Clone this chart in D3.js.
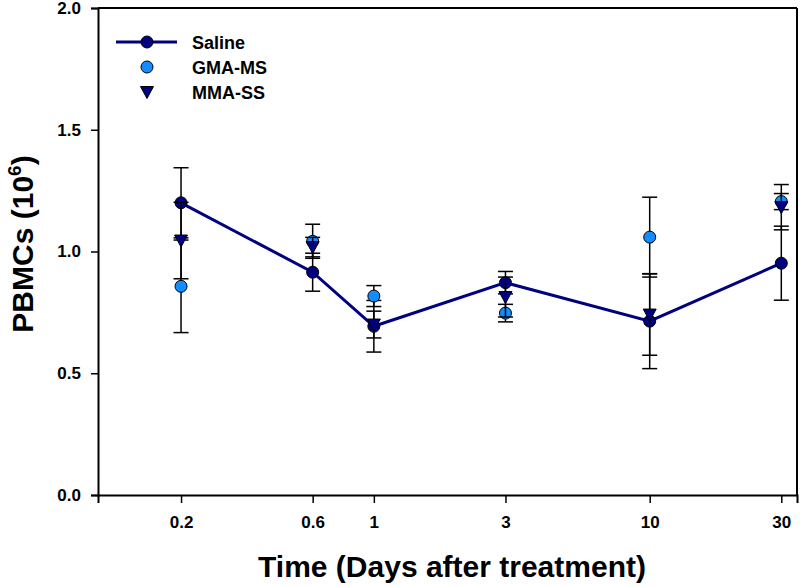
<!DOCTYPE html>
<html><head><meta charset="utf-8">
<script src="https://cdn.jsdelivr.net/npm/d3@7/dist/d3.min.js"></script>
<style>body{margin:0;background:#fff}svg{display:block;font-family:"Liberation Sans",Arial,sans-serif;font-weight:bold}</style>
</head><body><svg id="c" width="800" height="587"></svg>
<script>
const times = [0.2, 0.6, 1, 3, 10, 30];
const xTickLabels = ["0.2", "0.6", "1", "3", "10", "30"];
const yTicks = [0, 0.5, 1.0, 1.5, 2.0];
const salineMean = [1.20, 0.915, 0.693, 0.872, 0.714, 0.952];
const salineErr  = [0.144, 0.078, 0.106, 0.046, 0.195, 0.152];
const gmaMean    = [0.857, 1.042, 0.817, 0.747, 1.059, 1.205];
const gmaErr     = [0.19, 0.07, 0.043, 0.036, 0.164, 0.033];
const mmaMean    = [1.045, 1.018, 0.70, 0.813, 0.741, 1.182];
const mmaErr     = [0.157, 0.04, 0.055, 0.082, 0.167, 0.093];
const seriesNames = ["Saline", "GMA-MS", "MMA-SS"];

const NAVY = "#000080", BLUE = "#128CFF";
const svg = d3.select("#c");
const x = d3.scaleLog().domain([0.1, 34.2]).range([98, 797]);
const y = d3.scaleLinear().domain([0, 2]).range([495, 8]);

svg.append("line").attr("x1",98).attr("x2",797).attr("y1",8).attr("y2",8).attr("stroke","#000").attr("stroke-width",2);
svg.append("line").attr("x1",797).attr("x2",797).attr("y1",8).attr("y2",495).attr("stroke","#000").attr("stroke-width",2);

const xAxis = svg.append("g").attr("transform","translate(0,495)")
  .call(d3.axisBottom(x).tickValues(times).tickFormat((d,i)=>xTickLabels[i]).tickSize(8).tickPadding(13));
const yAxis = svg.append("g").attr("transform","translate(98,0)")
  .call(d3.axisLeft(y).tickValues(yTicks).tickFormat(d3.format(".1f")).tickSize(7).tickPadding(10));
[xAxis,yAxis].forEach(a=>{
  a.attr("font-size",17);
  a.select(".domain").attr("stroke","#000").attr("stroke-width",2);
  a.selectAll(".tick line").attr("stroke","#000").attr("stroke-width",1.5);
  a.selectAll("text").attr("font-weight","bold").attr("fill","#000").attr("font-family",'"Liberation Sans",Arial,sans-serif');
});

const tri = "M-6.5,-5.5L6.5,-5.5L0,6.5Z";
function errBars(mean, err){
  const g = svg.append("g").attr("stroke","#000").attr("stroke-width",1.5);
  times.forEach((t,i)=>{
    const cx = x(t), y1 = y(mean[i]+err[i]), y0 = y(mean[i]-err[i]);
    g.append("line").attr("x1",cx).attr("x2",cx).attr("y1",y1).attr("y2",y0);
    g.append("line").attr("x1",cx-7.5).attr("x2",cx+7.5).attr("y1",y1).attr("y2",y1);
    g.append("line").attr("x1",cx-7.5).attr("x2",cx+7.5).attr("y1",y0).attr("y2",y0);
  });
}
errBars(salineMean, salineErr);
svg.append("path").datum(times.map((t,i)=>[t,salineMean[i]]))
  .attr("d", d3.line().x(d=>x(d[0])).y(d=>y(d[1])))
  .attr("fill","none").attr("stroke",NAVY).attr("stroke-width",3);
svg.append("g").selectAll("circle").data(times).join("circle")
  .attr("cx",d=>x(d)).attr("cy",(d,i)=>y(salineMean[i])).attr("r",6)
  .attr("fill",NAVY).attr("stroke","#000").attr("stroke-width",1);
errBars(gmaMean, gmaErr);
svg.append("g").selectAll("circle").data(times).join("circle")
  .attr("cx",d=>x(d)).attr("cy",(d,i)=>y(gmaMean[i])).attr("r",6)
  .attr("fill",BLUE).attr("stroke","#000").attr("stroke-width",1);
errBars(mmaMean, mmaErr);
svg.append("g").selectAll("path").data(times).join("path")
  .attr("transform",(d,i)=>`translate(${x(d)},${y(mmaMean[i])})`).attr("d",tri)
  .attr("fill",NAVY).attr("stroke","#000").attr("stroke-width",1);

const lg = svg.append("g");
const rowsY = [42, 67, 92];
lg.append("line").attr("x1",116).attr("x2",177).attr("y1",rowsY[0]).attr("y2",rowsY[0]).attr("stroke",NAVY).attr("stroke-width",3);
lg.append("circle").attr("cx",147).attr("cy",rowsY[0]).attr("r",6).attr("fill",NAVY).attr("stroke","#000");
lg.append("circle").attr("cx",147).attr("cy",rowsY[1]).attr("r",6).attr("fill",BLUE).attr("stroke","#000");
lg.append("path").attr("transform",`translate(147,${rowsY[2]})`).attr("d",tri).attr("fill",NAVY).attr("stroke","#000");
seriesNames.forEach((n,i)=>{
  lg.append("text").attr("x",192).attr("y",rowsY[i]+6.5).attr("font-size",18).text(n);
});

svg.append("text").attr("x",452).attr("y",577).attr("text-anchor","middle").attr("font-size",30).text("Time (Days after treatment)");
const yt = svg.append("text").attr("transform","translate(33,244) rotate(-90)").attr("text-anchor","middle").attr("font-size",30);
yt.append("tspan").text("PBMCs (10");
yt.append("tspan").attr("font-size",19).attr("dy",-12).text("6");
yt.append("tspan").attr("dy",12).text(")");
</script></body></html>
